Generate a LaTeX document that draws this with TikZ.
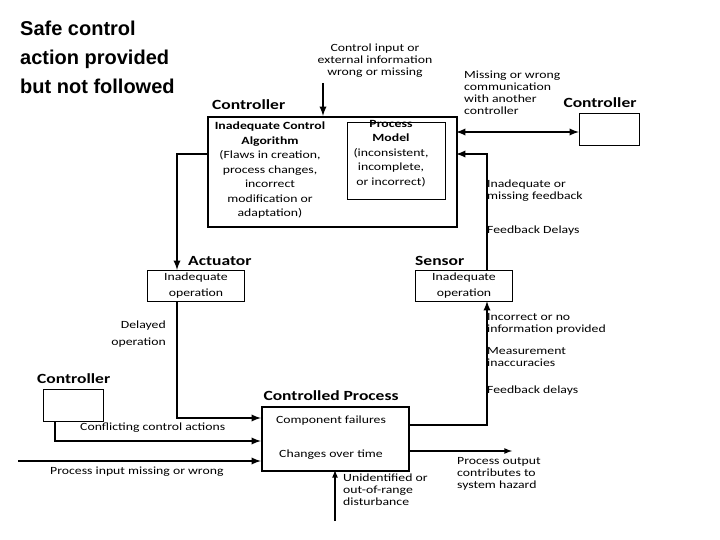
\documentclass[tikz,border=0pt]{standalone}
\usepackage{fontspec}
\setmainfont{Carlito}[FakeStretch=1.25]
\newfontfamily\titlefont{Liberation Sans}
\begin{document}
\begin{tikzpicture}[x=1pt,y=-1pt,
  box/.style={draw,line width=1pt,inner sep=0pt},
  bbox/.style={draw,line width=2pt,inner sep=0pt},
  lab/.style={font=\fontsize{11}{12}\selectfont,inner sep=0pt},
  lbx/.style={font=\fontsize{11}{14.5}\selectfont,inner sep=0pt},
  hd/.style={font=\fontsize{14}{16}\selectfont\bfseries,inner sep=0pt},
  con/.style={line width=2.2pt,-latex},
  con2/.style={line width=1.6pt,-latex}]
\useasboundingbox (0,0) rectangle (720,540);
% title
\node[font=\titlefont\fontsize{20}{29}\selectfont\bfseries,align=left,anchor=north west,inner sep=0pt] (title) at (20,21) {Safe control\\action provided\\but not followed};
% main controller
\node[bbox,minimum width=249,minimum height=110,anchor=north west] (mc) at (207,116) {};
\node[hd,anchor=south west] (mcl) at (212,110) {Controller};
\node[box,minimum width=98,minimum height=77,anchor=north west] (pm) at (347,122) {};
\node[lbx,align=center,anchor=north] (alg) at (270,122) {\textbf{Inadequate Control}\\\textbf{Algorithm}\\(Flaws in creation,\\process changes,\\incorrect\\modification or\\adaptation)};
\node[lbx,align=center,anchor=north] (pmt) at (391,120) {\textbf{Process}\\\textbf{Model}\\(inconsistent,\\incomplete,\\or incorrect)};
% other controller top right
\node[box,minimum width=60,minimum height=32,anchor=north west] (oc) at (579,113) {};
\node[hd,anchor=south] (ocl) at (600,108) {Controller};
% actuator & sensor
\node[box,minimum width=97,minimum height=31,anchor=north west,font=\fontsize{11}{16}\selectfont,align=center] (act) at (147,270) {Inadequate\\operation};
\node[hd,anchor=south west] (actl) at (188,266) {Actuator};
\node[box,minimum width=97,minimum height=31,anchor=north west,font=\fontsize{11}{16}\selectfont,align=center] (sen) at (415,270) {Inadequate\\operation};
\node[hd,anchor=south west] (senl) at (415,266) {Sensor};
% controlled process
\node[bbox,minimum width=147,minimum height=64,anchor=north west] (cp) at (261,406) {};
\node[hd,anchor=south] (cpl) at (331,401) {Controlled Process};
\node[lab] (cf) at (331,421) {Component failures};
\node[lab] (ct) at (331,455) {Changes over time};
% left controller
\node[box,minimum width=60,minimum height=32,anchor=north west] (lc) at (43,389) {};
\node[hd,anchor=south west] (lcl) at (37,384) {Controller};
% coordinates
\coordinate (ci) at (323,83);
\coordinate (pi) at (18,461);
\coordinate (dist) at (335,521);
\coordinate (out) at (512,451);
% connectors
\draw[con] (ci) -- (323,116);
\draw[con,latex-latex] (456,132) -- (oc.west |- 0,132);
\draw[con] (sen.north -| 487,0) -- (487,154) -- (456,154);
\draw[con] (207,154) -- (177,154) -- (177,270);
\draw[con] (177,301) -- (177,418) -- (261,418);
\draw[con] (55,421) -- (55,441) -- (261,441);
\draw[con] (pi) -- (261,461);
\draw[con] (408,425) -- (487,425) -- (487,301);
\draw[con2] (408,451) -- (out);
\draw[con2] (dist) -- (335,470);
% labels
\node[lab,align=center,anchor=north] at (375,44) {Control input or\\external information\\wrong or missing};
\node[lab,align=left,anchor=north west] at (464,71) {Missing or wrong\\communication\\with another\\controller};
\node[lab,align=left,anchor=north west] at (487,180) {Inadequate or\\missing feedback};
\node[lab,anchor=west] at (487,231) {Feedback Delays};
\node[font=\fontsize{11}{17}\selectfont,inner sep=0pt,align=right,anchor=north east] at (166,321) {Delayed\\operation};
\node[lab,align=left,anchor=north west] at (487,313) {Incorrect or no\\information provided};
\node[lab,align=left,anchor=north west] at (487,347) {Measurement\\inaccuracies};
\node[lab,anchor=west] at (487,391) {Feedback delays};
\node[lab,anchor=west] at (80,428) {Conflicting control actions};
\node[lab,anchor=west] at (50,472) {Process input missing or wrong};
\node[lab,align=left,anchor=north west] at (343,474) {Unidentified or\\out-of-range\\disturbance};
\node[lab,align=left,anchor=north west] at (457,457) {Process output\\contributes to\\system hazard};
\end{tikzpicture}
\end{document}
